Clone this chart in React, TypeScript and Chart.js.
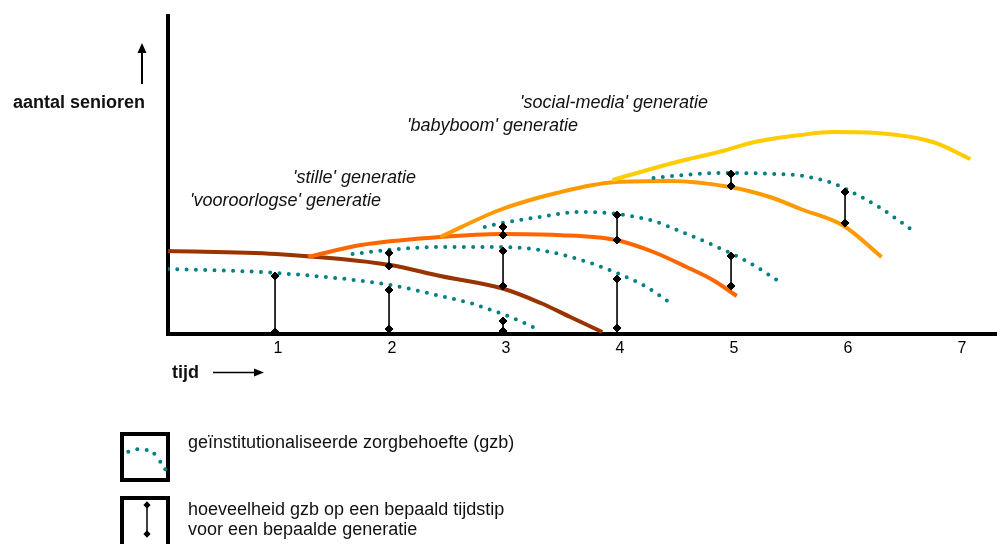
import React, { useEffect, useRef } from "react";
import { Chart, registerables } from "chart.js";

Chart.register(...registerables);

const FONT = "'Liberation Sans', Arial, Helvetica, sans-serif";
const TEAL = "#008080";

// x-axis tick labels (time)
const xTickValues = [1, 2, 3, 4, 5, 6, 7];

// 'vooroorlogse' generatie — number of seniors
const vooroorlogseX = [0.061, 1.01, 2.01, 2.45, 3.01, 3.33, 3.59, 3.87];
const vooroorlogseY = [81, 78, 67, 56, 43, 29, 15, 0];
// 'vooroorlogse' gzb
const vooroorlogseGzbX = [0.061, 1.01, 2.01, 2.45, 2.71, 2.97, 3.15, 3.3];
const vooroorlogseGzbY = [63, 59, 47, 36, 29, 19, 11, 3];

// 'stille' generatie
const stilleX = [1.29, 1.75, 2.45, 2.99, 3.47, 3.99, 4.32, 4.61, 4.84, 5.05];
const stilleY = [75, 87, 95, 98, 97, 92, 80, 65, 52, 36];
const stilleGzbX = [1.68, 1.99, 2.45, 2.99, 3.32, 3.74, 4.04, 4.26, 4.48];
const stilleGzbY = [78, 82, 85, 85, 82, 70, 57, 45, 28];

// 'babyboom' generatie
const babyboomX = [2.45, 2.97, 3.47, 3.99, 4.46, 4.99, 5.34, 5.61, 5.99, 6.32];
const babyboomY = [95, 122, 139, 150, 151, 145, 135, 123, 106, 75];
const babyboomGzbX = [2.84, 2.99, 3.32, 3.68, 3.91, 4.07, 4.32, 4.55, 4.86, 5.15, 5.43];
const babyboomGzbY = [105, 109, 115, 120, 119, 117, 111, 101, 86, 70, 50];

// 'social-media' generatie
const socialX = [3.96, 4.49, 4.96, 5.17, 5.61, 5.89, 6.28, 6.77, 7.1];
const socialY = [152, 169, 182, 189, 197, 200, 199, 190, 173];
const socialGzbX = [4.32, 4.58, 4.9, 5.4, 5.63, 5.89, 6.04, 6.31, 6.6];
const socialGzbY = [154, 157, 159, 158, 156, 149, 141, 124, 101];

// hoeveelheid gzb op een bepaald tijdstip (vertical markers)
const gzbX = [1, 2, 2, 3, 3, 3, 4, 4, 5, 5, 6];
const gzbTop = [56, 79, 42, 105, 81, 11, 117, 53, 158, 76, 140];
const gzbBottom = [0, 66, 3, 97, 46, 1, 92, 4, 146, 46, 109];

const generationNames = [
  "'social-media' generatie",
  "'babyboom' generatie",
  "'stille' generatie",
  "'vooroorlogse' generatie",
];

export default function App() {
  const ref = useRef<HTMLCanvasElement>(null);

  useEffect(() => {
    if (!ref.current) return;
    const pts = (xs: number[], ys: number[]) => xs.map((x, i) => ({ x, y: ys[i] }));
    const gzbData: any[] = [];
    gzbX.forEach((x, i) => {
      gzbData.push({ x, y: gzbTop[i] }, { x, y: gzbBottom[i] }, { x: x + 0.01, y: null });
    });
    const solid = (label: string, xs: number[], ys: number[], color: string) => ({
      label,
      data: pts(xs, ys),
      borderColor: color,
      borderWidth: 4,
      pointRadius: 0,
      cubicInterpolationMode: "monotone",
      fill: false,
    });
    const dotted = (label: string, xs: number[], ys: number[]) => ({
      label,
      data: pts(xs, ys),
      borderColor: TEAL,
      borderWidth: 4,
      borderDash: [0, 9.3],
      borderCapStyle: "round",
      pointRadius: 0,
      cubicInterpolationMode: "monotone",
      fill: false,
    });

    const chart = new Chart(ref.current, {
      type: "line",
      data: {
        datasets: [
          {
            label: "hoeveelheid gzb",
            data: gzbData,
            borderColor: "#000",
            borderWidth: 1.6,
            pointStyle: "rectRot",
            pointRadius: 4,
            pointBackgroundColor: "#000",
            pointBorderColor: "#000",
            pointBorderWidth: 1,
            spanGaps: false,
            clip: false,
            tension: 0,
          } as any,
          dotted("gzb social-media", socialGzbX, socialGzbY),
          dotted("gzb babyboom", babyboomGzbX, babyboomGzbY),
          dotted("gzb stille", stilleGzbX, stilleGzbY),
          dotted("gzb vooroorlogse", vooroorlogseGzbX, vooroorlogseGzbY),
          solid(generationNames[0], socialX, socialY, "#ffcc00"),
          solid(generationNames[1], babyboomX, babyboomY, "#ff9900"),
          solid(generationNames[2], stilleX, stilleY, "#ff6600"),
          solid(generationNames[3], vooroorlogseX, vooroorlogseY, "#993300"),
        ] as any,
      },
      options: {
        animation: false,
        responsive: false,
        devicePixelRatio: 1,
        events: [],
        layout: {
          autoPadding: false,
          padding: { left: 168, top: 16, right: 0, bottom: 544 - 334 - 40 },
        },
        plugins: { legend: { display: false }, tooltip: { enabled: false } },
        scales: {
          x: {
            type: "linear",
            min: 0.061,
            max: 7.333,
            grid: { display: false, drawTicks: false },
            border: { display: true, width: 4, color: "#000" },
            ticks: {
              font: { family: FONT, size: 16 },
              color: "#000",
              padding: 5,
              labelOffset: 3,
            },
            afterBuildTicks: (s: any) => {
              s.ticks = xTickValues.map((v) => ({ value: v }));
            },
            afterFit: (s: any) => {
              s.height = 40;
            },
          },
          y: {
            type: "linear",
            min: -2,
            max: 316,
            grid: { display: false, drawTicks: false },
            border: { display: true, width: 4, color: "#000" },
            ticks: { display: false },
            afterFit: (s: any) => {
              s.width = 0;
            },
          },
        },
      } as any,
    });
    return () => chart.destroy();
  }, []);

  const legendDots = [
    [128.3, 451.7],
    [137.3, 449.3],
    [146.7, 450],
    [154.3, 453.7],
    [160.3, 461.7],
    [165.3, 469.3],
  ];
  const diamond = (cx: number, cy: number) =>
    `${cx},${cy - 3.8} ${cx + 3.6},${cy} ${cx},${cy + 3.8} ${cx - 3.6},${cy}`;

  return (
    <div
      style={{
        position: "fixed",
        left: 0,
        top: 0,
        width: 997,
        height: 544,
        background: "#fff",
        overflow: "hidden",
      }}
    >
      <canvas ref={ref} width={997} height={544} style={{ position: "absolute", left: 0, top: 0 }} />
      <svg
        width={997}
        height={544}
        style={{ position: "absolute", left: 0, top: 0 }}
        fontFamily={FONT}
        fontSize={18}
        fill="#111"
      >
        <text x={13} y={108} fontWeight="bold">aantal senioren</text>
        <line x1={142} y1={84} x2={142} y2={52} stroke="#000" strokeWidth={2} />
        <polygon points="142,43 137.5,53 146.5,53" fill="#000" />

        <text x={172} y={378} fontWeight="bold">tijd</text>
        <line x1={213} y1={372.5} x2={256} y2={372.5} stroke="#000" strokeWidth={1.6} />
        <polygon points="264,372.5 254,368.5 254,376.5" fill="#000" />

        <text x={520} y={108} fontStyle="italic">{generationNames[0]}</text>
        <text x={407} y={131} fontStyle="italic">{generationNames[1]}</text>
        <text x={293} y={183} fontStyle="italic">{generationNames[2]}</text>
        <text x={190} y={206} fontStyle="italic">{generationNames[3]}</text>

        <rect x={122} y={434} width={46} height={46} fill="none" stroke="#000" strokeWidth={4} />
        {legendDots.map(([cx, cy], i) => (
          <circle key={i} cx={cx} cy={cy} r={2} fill={TEAL} />
        ))}
        <text x={188} y={448}>geïnstitutionaliseerde zorgbehoefte (gzb)</text>

        <rect x={122} y={498} width={46} height={80} fill="none" stroke="#000" strokeWidth={4} />
        <line x1={147} y1={505} x2={147} y2={534} stroke="#000" strokeWidth={1.5} />
        <polygon points={diamond(147, 505)} fill="#000" />
        <polygon points={diamond(147, 534)} fill="#000" />
        <text x={188} y={515}>hoeveelheid gzb op een bepaald tijdstip</text>
        <text x={188} y={535}>voor een bepaalde generatie</text>
      </svg>
    </div>
  );
}
